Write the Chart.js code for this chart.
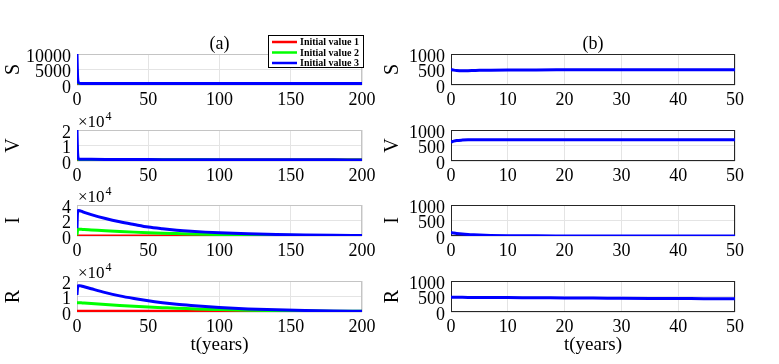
<!DOCTYPE html>
<html><head><meta charset="utf-8">
<script src="https://cdn.jsdelivr.net/npm/chart.js@4.4.0/dist/chart.umd.min.js"></script>
<style>
html,body{margin:0;padding:0;background:#fff;}
#wrap{position:relative;width:779px;height:364px;overflow:hidden;background:#fff;}
canvas{position:absolute;}
</style></head><body><div id="wrap"></div>
<script>
// ---------- data: panel (a), t in years ----------
const tA = [0, 0.3, 0.6, 1, 2, 3, 5, 10, 20, 30, 40, 50, 60, 70, 80, 90, 100, 120, 140, 160, 180, 200];
const S1 = [480, 476, 472, 468, 465, 470, 478, 484, 486, 486, 486, 486, 486, 486, 486, 486, 486, 486, 486, 486, 486, 486];
const S2 = [5000, 2000, 900, 600, 500, 490, 486, 485, 485, 485, 485, 485, 485, 485, 485, 485, 485, 485, 485, 485, 485, 485];
const S3 = [10000, 4000, 1500, 800, 520, 495, 488, 486, 485, 485, 485, 485, 485, 485, 485, 485, 485, 485, 485, 485, 485, 485];
const V1 = [600, 610, 625, 640, 670, 680, 685, 686, 686, 686, 686, 686, 686, 686, 686, 686, 686, 686, 686, 686, 686, 686];
const V2 = [10000, 4000, 1600, 1000, 850, 820, 800, 790, 780, 770, 760, 750, 745, 740, 735, 730, 725, 715, 710, 705, 700, 700];
const V3 = [20000, 8000, 3000, 1500, 1150, 1100, 1080, 1050, 1000, 960, 930, 900, 880, 860, 840, 820, 800, 780, 760, 740, 730, 720];
const I1 = [110, 100, 95, 85, 65, 50, 30, 11, 3, 1, 0, 0, 0, 0, 0, 0, 0, 0, 0, 0, 0, 0];
const I2 = [1000, 6000, 8200, 8800, 8700, 8600, 8300, 7800, 6700, 5800, 5000, 4300, 3700, 3200, 2700, 2300, 2000, 1500, 1100, 800, 600, 450];
const I3 = [10000, 28000, 32500, 33000, 32500, 32000, 30500, 27500, 22500, 18300, 14800, 11500, 9300, 7500, 6100, 5000, 4200, 2900, 2000, 1400, 1000, 700];
const R1 = [475, 475, 475, 474, 473, 472, 470, 464, 454, 444, 434, 426, 418, 410, 403, 396, 390, 378, 367, 357, 348, 340];
const R2 = [6000, 6000, 6000, 6000, 5950, 5900, 5800, 5500, 4800, 4200, 3700, 3200, 2800, 2400, 2100, 1800, 1600, 1200, 950, 750, 550, 450];
const R3 = [11000, 15000, 16500, 17000, 17000, 16800, 16300, 15000, 12500, 10400, 8700, 7200, 6000, 5000, 4200, 3500, 2900, 2000, 1400, 1000, 700, 500];

// ---------- data: panel (b) ----------
const tB = [0, 0.5, 1, 2, 3, 4, 5, 7, 10, 15, 20, 25, 30, 35, 40, 45, 50];
const SB = [500, 480, 468, 460, 462, 467, 472, 478, 484, 487, 488, 488, 488, 488, 488, 488, 488];
const VB = [610, 640, 660, 675, 682, 685, 687, 688, 688, 688, 688, 688, 687, 687, 686, 686, 685];
const IB = [110, 95, 82, 62, 48, 38, 30, 19, 11, 5, 3, 2, 1, 1, 0.5, 0.3, 0.2];
const RB = [475, 474, 473, 472, 471, 470, 469, 467, 464, 459, 454, 449, 444, 439, 434, 430, 426];

// ---------- labels / ticks ----------
const seriesLabels = ['Initial value 1', 'Initial value 2', 'Initial value 3'];
const seriesColors = ['#ff0000', '#00ff00', '#0000ff'];
const varNames = ['S', 'V', 'I', 'R'];
const panelTitles = ['(a)', '(b)'];
const xLabel = 't(years)';
const xTicksA = [0, 50, 100, 150, 200];
const xTicksB = [0, 10, 20, 30, 40, 50];
const yTicksA = [[0, 5000, 10000], [0, 10000, 20000], [0, 20000, 40000], [0, 10000, 20000]];
const yTicksB = [0, 500, 1000];
const expA = [false, true, true, true];

// ---------- layout ----------
const FONT = '"Liberation Serif", "Times New Roman", serif';
const rowTops = [54, 130, 205, 281];
const plotH = 31;
const padTop = 24;
const cols = [
  { left: 0, width: 380, yAxisW: 77, padRight: 18, titlePad: 2, frame: '#c4c4c4' },
  { left: 380, width: 399, yAxisW: 71, padRight: 44, titlePad: 1, frame: '#262626' }
];

const decoPlugin = {
  id: 'deco',
  beforeDatasetsDraw(chart, args, o) {
    const a = chart.chartArea, ctx = chart.ctx;
    ctx.save();
    ctx.strokeStyle = o.frame; ctx.lineWidth = 1;
    ctx.strokeRect(Math.round(a.left) + 0.5, Math.round(a.top) + 0.5, Math.round(a.right - a.left) - 1, Math.round(a.bottom - a.top) - 1);
    ctx.restore();
  },
  afterDraw(chart, args, o) {
    const a = chart.chartArea, ctx = chart.ctx;
    ctx.save();
    ctx.fillStyle = '#000';
    if (o.exp) {
      ctx.font = '17px ' + FONT; ctx.textBaseline = 'alphabetic'; ctx.textAlign = 'left';
      ctx.fillText('\u00d710', a.left + 1, a.top - 3);
      const w = ctx.measureText('\u00d710').width;
      ctx.font = '12px ' + FONT;
      ctx.fillText('4', a.left + 2 + w, a.top - 10);
    }
    if (o.title) {
      ctx.font = '18px ' + FONT; ctx.textAlign = 'center'; ctx.textBaseline = 'middle';
      ctx.fillText(o.title, (a.left + a.right) / 2, a.top - 10);
    }
    if (o.legend) {
      const bx = 268, by = 5, bw = 95, bh = 32;
      ctx.fillStyle = '#fff'; ctx.fillRect(bx, by, bw, bh);
      ctx.strokeStyle = '#000'; ctx.lineWidth = 1; ctx.strokeRect(bx + 0.5, by + 0.5, bw, bh);
      ctx.font = 'bold 10px ' + FONT; ctx.textAlign = 'left'; ctx.textBaseline = 'middle';
      seriesLabels.forEach((lab, i) => {
        const y = by + 7 + i * 10.5;
        ctx.strokeStyle = seriesColors[i]; ctx.lineWidth = 2.5;
        ctx.beginPath(); ctx.moveTo(bx + 4, y); ctx.lineTo(bx + 29, y); ctx.stroke();
        ctx.fillStyle = '#000'; ctx.fillText(lab, bx + 32, y + 0.5);
      });
    }
    ctx.restore();
  }
};

function makePanel(c, row, xs, seriesArrs, colors, labels, xTicks, yTicks, exp) {
  const col = cols[c];
  const last = row === 3;
  const xAxisH = last ? 364 - (rowTops[row] + plotH) : 24;
  const H = padTop + plotH + xAxisH;
  const cv = document.createElement('canvas');
  cv.width = col.width; cv.height = H;
  cv.style.left = col.left + 'px'; cv.style.top = (rowTops[row] - padTop) + 'px';
  cv.style.width = col.width + 'px'; cv.style.height = H + 'px';
  document.getElementById('wrap').appendChild(cv);
  const datasets = seriesArrs.map((arr, i) => ({
    label: labels[i],
    data: xs.map((x, k) => ({ x: x, y: arr[k] })),
    borderColor: colors[i], backgroundColor: colors[i],
    borderWidth: 3, pointRadius: 0, fill: false,
    cubicInterpolationMode: 'monotone',
    order: seriesArrs.length - i
  }));
  const tickFont = { family: FONT, size: 18 };
  new Chart(cv, {
    type: 'line',
    data: { datasets },
    plugins: [decoPlugin],
    options: {
      responsive: false, animation: false, devicePixelRatio: 1,
      layout: { padding: { top: padTop, right: col.padRight, left: 0, bottom: 0 } },
      plugins: {
        legend: { display: false }, tooltip: { enabled: false },
        deco: { frame: col.frame, exp: exp, title: row === 0 ? panelTitles[c] : null, legend: c === 0 && row === 0 }
      },
      scales: {
        x: {
          type: 'linear', min: xTicks[0], max: xTicks[xTicks.length - 1],
          afterBuildTicks: s => { s.ticks = xTicks.map(v => ({ value: v })); },
          afterFit: s => { s.height = xAxisH; },
          grid: { color: '#e4e4e4', drawTicks: false },
          border: { display: false },
          ticks: { font: tickFont, color: '#000', padding: 4, maxRotation: 0, autoSkip: false, callback: v => String(v) },
          title: last ? { display: true, text: xLabel, color: '#000', font: { family: FONT, size: 19 }, padding: { top: 0, bottom: 8 } } : { display: false }
        },
        y: {
          type: 'linear', min: yTicks[0], max: yTicks[yTicks.length - 1],
          afterBuildTicks: s => { s.ticks = yTicks.map(v => ({ value: v })); },
          afterFit: s => { s.width = col.yAxisW; },
          grid: { color: '#e4e4e4', drawTicks: false },
          border: { display: false },
          ticks: { font: tickFont, color: '#000', padding: 6, labelOffset: 3, autoSkip: false, callback: v => exp ? String(v / 10000) : String(v) },
          title: { display: true, text: varNames[row], color: '#000', font: { family: FONT, size: 20 }, padding: { top: col.titlePad, bottom: 0 } }
        }
      }
    }
  });
}

const aSeries = [[S1, S2, S3], [V1, V2, V3], [I1, I2, I3], [R1, R2, R3]];
const bSeries = [SB, VB, IB, RB];
for (let r = 0; r < 4; r++) {
  makePanel(0, r, tA, aSeries[r], seriesColors, seriesLabels, xTicksA, yTicksA[r], expA[r]);
  makePanel(1, r, tB, [bSeries[r]], [seriesColors[2]], [seriesLabels[2]], xTicksB, yTicksB, false);
}
</script></body></html>
